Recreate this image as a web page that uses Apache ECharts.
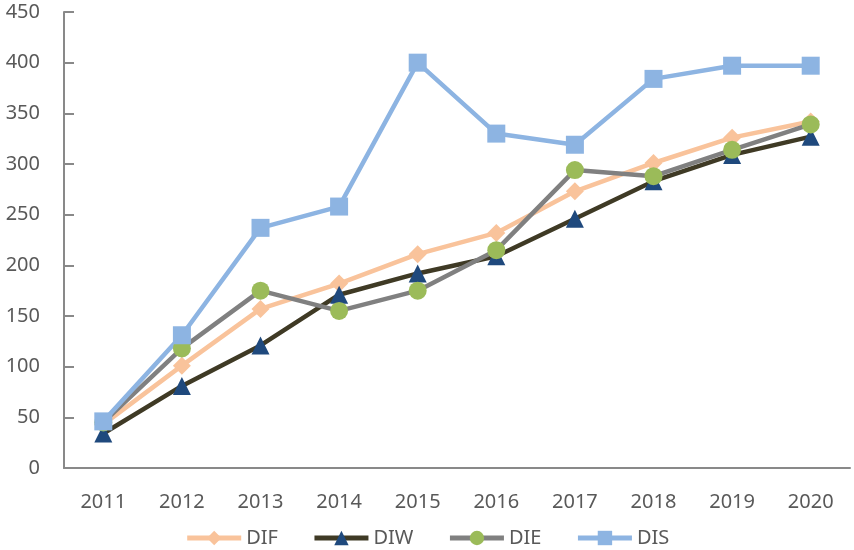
<!DOCTYPE html>
<html>
<head>
<meta charset="utf-8">
<script src="https://cdn.jsdelivr.net/npm/echarts@6/dist/echarts.min.js"></script>
<style>
  html, body { margin: 0; padding: 0; background: #fff; }
  #chart { width: 854px; height: 550px; }
</style>
</head>
<body>
<div id="chart"></div>
<script>
  // 年份分类
  const years = ['2011', '2012', '2013', '2014', '2015', '2016', '2017', '2018', '2019', '2020']

  // 各序列数值
  const difValues = [43, 101, 157, 182, 211, 232, 273, 301, 326, 342]
  const diwValues = [34, 81, 121, 171, 192, 209, 246, 283, 309, 327]
  const dieValues = [45, 118, 175, 155, 175, 215, 294, 288, 314, 339]
  const disValues = [46, 131, 237, 258, 400, 330, 319, 384, 397, 397]

  const labelColor = '#595959'
  const axisColor = '#898989'
  const font = 'Noto Sans'

  const myChart = echarts.init(document.getElementById('chart'))

  const makeSeries = (name, data, lineColor, markColor, symbol, size) => ({
    name,
    type: 'line',
    data,
    symbol,
    symbolSize: size,
    lineStyle: { color: lineColor, width: 4.5 },
    itemStyle: { color: markColor, borderWidth: 0 },
    emphasis: { disabled: true },
  })

  const option = {
    animation: false,
    grid: { left: 64, right: 4, top: 12, bottom: 82 },
    legend: {
      bottom: -3,
      left: 'center',
      itemWidth: 54,
      itemHeight: 18,
      itemGap: 34,
      lineStyle: { width: 5 },
      textStyle: { color: labelColor, fontSize: 20, fontFamily: font },
      data: ['DIF', 'DIW', 'DIE', 'DIS'],
    },
    xAxis: {
      type: 'category',
      data: years,
      boundaryGap: true,
      axisLine: { lineStyle: { color: axisColor, width: 2 } },
      axisTick: { inside: true, length: 9, lineStyle: { color: axisColor, width: 2 } },
      axisLabel: { color: labelColor, fontSize: 20, fontFamily: font, margin: 24 },
    },
    yAxis: {
      type: 'value',
      min: 0,
      max: 450,
      interval: 50,
      splitLine: { show: false },
      axisLine: { show: true, lineStyle: { color: axisColor, width: 2 } },
      axisTick: { show: true, inside: true, length: 10, lineStyle: { color: axisColor, width: 2 } },
      axisLabel: { color: labelColor, fontSize: 20, fontFamily: font, margin: 24 },
    },
    series: [
      makeSeries('DIF', difValues, '#F9C39B', '#F9C39B', 'diamond', 18),
      makeSeries('DIW', diwValues, '#3F3A25', '#1F497D', 'triangle', 18),
      makeSeries('DIE', dieValues, '#808080', '#9BBB59', 'circle', 18),
      makeSeries('DIS', disValues, '#8DB4E2', '#8DB4E2', 'rect', 18),
    ],
  }
  option && myChart.setOption(option)
</script>
</body>
</html>
